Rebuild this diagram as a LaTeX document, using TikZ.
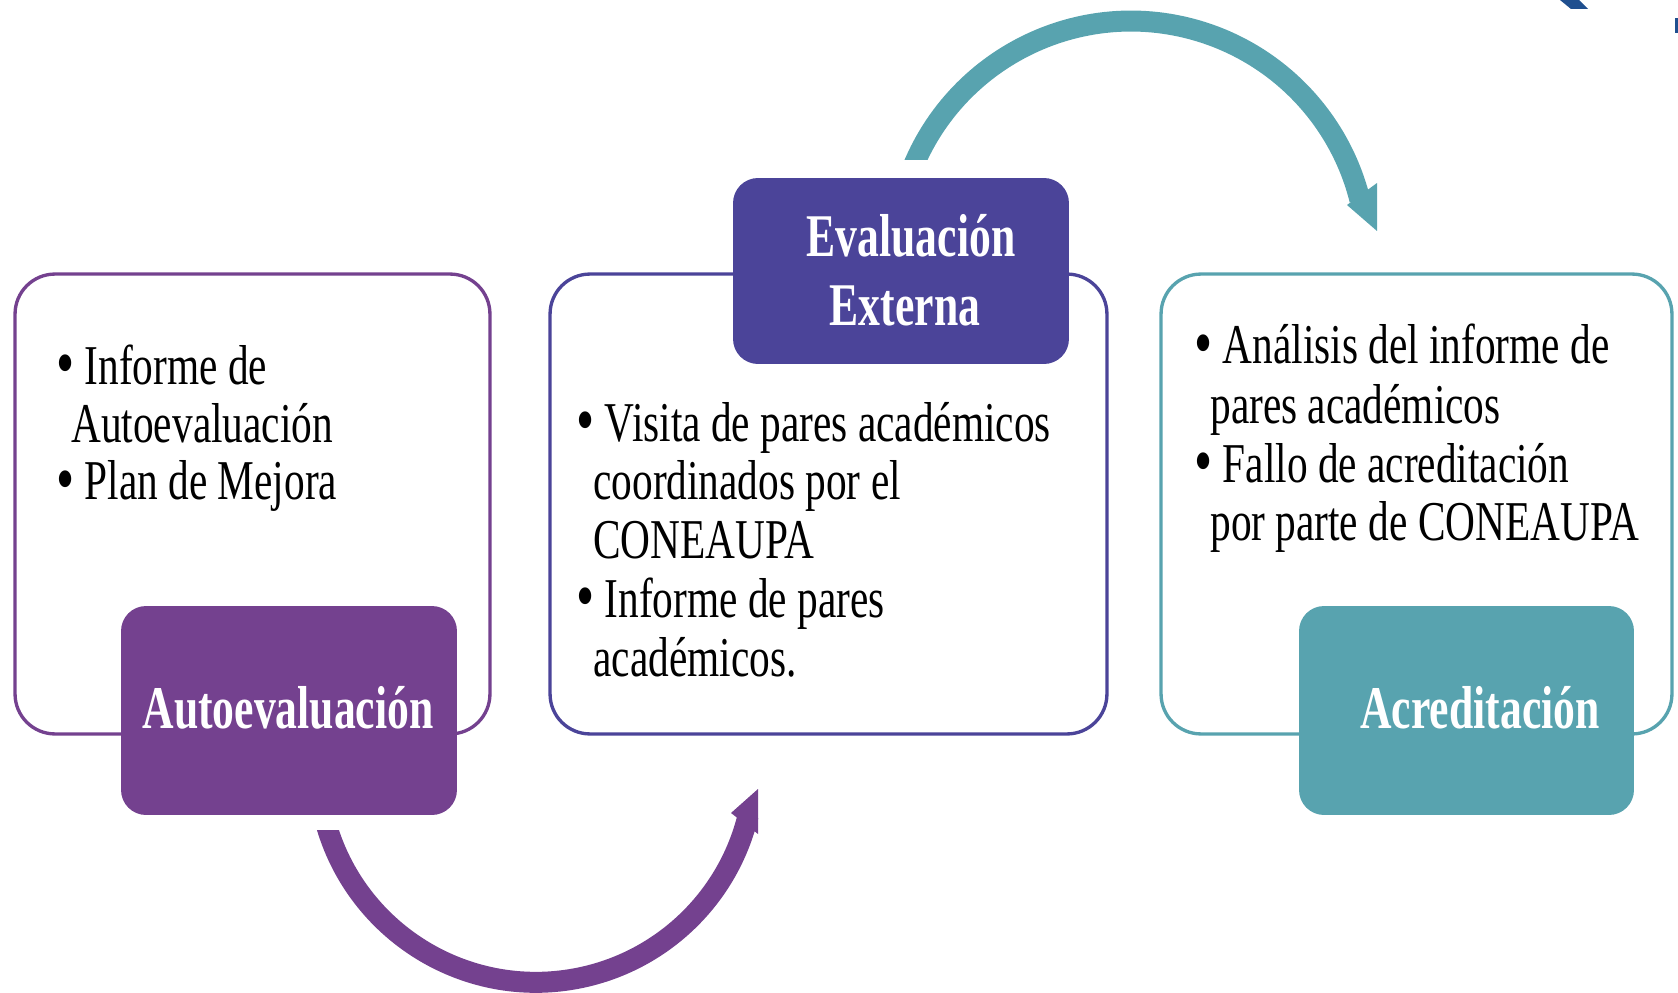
\documentclass[tikz,border=0pt]{standalone}
\usepackage{fontspec}
\setmainfont{Liberation Serif}
\newfontfamily\condfont[FakeStretch=0.735]{Liberation Serif}
\newfontfamily\titlefont[FakeStretch=0.72]{Liberation Serif}
\newcommand\bul{\raisebox{-1.5pt}{\fontsize{40}{40}\selectfont\textbullet}}
\definecolor{purp}{RGB}{116,65,143}
\definecolor{indig}{RGB}{75,68,153}
\definecolor{tealc}{RGB}{88,163,175}
\definecolor{logoblue}{RGB}{31,79,143}
\begin{document}
\begin{tikzpicture}[x=0.02cm, y=0.02cm,
  outline/.style={draw, line width=1.9pt, rounded corners=0.8cm, fill=white, inner sep=0pt},
  labelbox/.style={rounded corners=0.5cm, inner sep=0pt},
  body/.style={font=\condfont\fontsize{32}{36}\selectfont, anchor=base west, inner sep=0pt},
  title/.style={font=\titlefont\bfseries\fontsize{34.5}{40}\selectfont, text=white, anchor=base, inner sep=0pt},
  arcline/.style={line width=0.42cm}]
\useasboundingbox (0,0) rectangle (1678,-993);

% logo fragments
\fill[logoblue] (1560,0) -- (1579,0) -- (1588,-9) -- (1571,-9) -- cycle;
\fill[logoblue] (1675,-18) rectangle (1678,-33);

% outline boxes
\node[outline, draw=purp, minimum width=9.5cm, minimum height=9.2cm] (box1) at (252.5,-504) {};
\node[outline, draw=indig, minimum width=11.14cm, minimum height=9.2cm] (box2) at (828.5,-504) {};
\node[outline, draw=tealc, minimum width=10.22cm, minimum height=9.2cm] (box3) at (1416.5,-504) {};

% label boxes
\node[labelbox, fill=purp, minimum width=6.72cm, minimum height=4.18cm] (lab1) at (289,-710.5) {};
\node[labelbox, fill=indig, minimum width=6.72cm, minimum height=3.72cm] (lab2) at (901,-271) {};
\node[labelbox, fill=tealc, minimum width=6.7cm, minimum height=4.18cm] (lab3) at (1466.5,-710.5) {};

% titles
\node[title] (t1) at (288,-728) {Autoevaluación};
\node[title] (t2a) at (911,-257) {Evaluación};
\node[title] (t2b) at (905,-326) {Externa};
\node[title] (t3) at (1480,-728) {Acreditación};

% left box text
\node[body] (a1) at (56,-384) {\bul\ Informe de};
\node[body] (a2) at (71,-442) {Autoevaluación};
\node[body] (a3) at (56,-500) {\bul\ Plan de Mejora};

% middle box text
\node[body] (b1) at (576,-441) {\bul\ Visita de pares académicos};
\node[body] (b2) at (593,-500) {coordinados por el};
\node[body] (b3) at (593,-558) {CONEAUPA};
\node[body] (b4) at (576,-617) {\bul\ Informe de pares};
\node[body] (b5) at (593,-676) {académicos.};

% right box text
\node[body] (c1) at (1194,-364) {\bul\ Análisis del informe de};
\node[body] (c2) at (1210,-423) {pares académicos};
\node[body] (c3) at (1194,-482) {\bul\ Fallo de acreditación};
\node[body] (c4) at (1210,-540) {por parte de CONEAUPA};

% purple arc arrow
\coordinate (pc) at (536,-764);
\begin{scope}
  \clip (250,-830) -- (450,-830) -- (450,-700) -- (800,-700) -- (800,-993) -- (250,-993) -- cycle;
  \draw[arcline, purp] (pc) ++(192:218.3) arc[start angle=192, end angle=346.3, radius=218.3];
\end{scope}
\coordinate (ptip) at (758,-789);
\fill[purp] (ptip) -- (731,-813) -- (758,-834) -- cycle;

% teal arc arrow
\coordinate (tc) at (1131,-257);
\begin{scope}
  \clip (850,-160) -- (1000,-160) -- (1000,-300) -- (1500,-300) -- (1500,0) -- (850,0) -- cycle;
  \draw[arcline, tealc] (tc) ++(162:235.9) arc[start angle=162, end angle=14, radius=235.9];
\end{scope}
\coordinate (ttip) at (1377,-231);
\fill[tealc] (ttip) -- (1347,-205) -- (1377,-183) -- cycle;
\end{tikzpicture}
\end{document}
